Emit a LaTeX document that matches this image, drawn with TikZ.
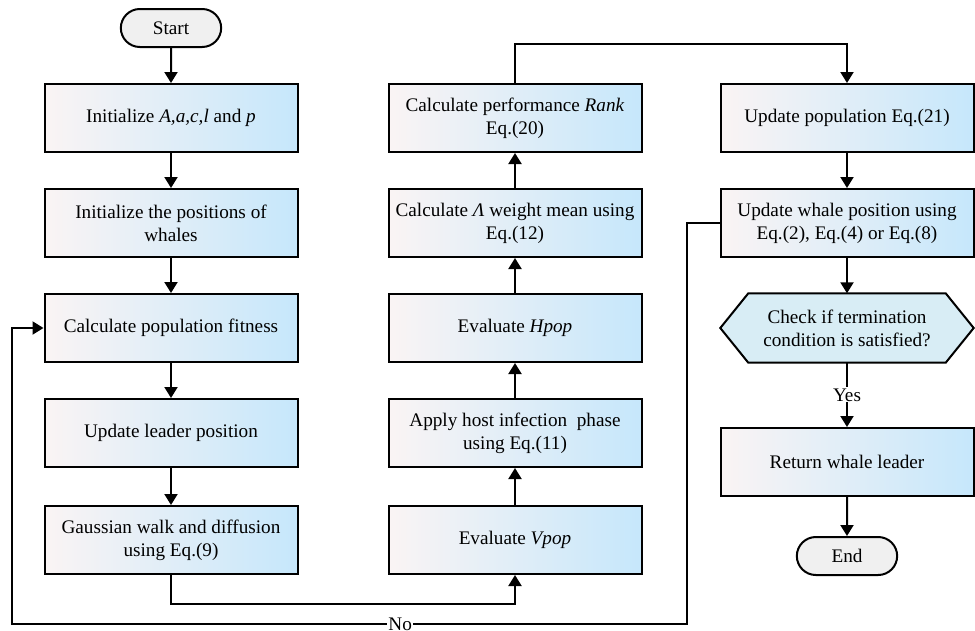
\documentclass[tikz,border=0pt]{standalone}
\usepackage{fontspec}
\setmainfont{Liberation Serif}
\usetikzlibrary{arrows.meta,shapes.misc,backgrounds}
\definecolor{boxl}{RGB}{250,244,244}
\definecolor{boxr}{RGB}{198,231,251}
\definecolor{hexfill}{RGB}{216,237,245}
\definecolor{termfill}{RGB}{240,240,240}
\tikzset{
  txt/.style={font=\fontsize{19.2}{23}\selectfont, align=center},
  proc/.style={txt, draw, line width=2pt, left color=boxl, right color=boxr,
    minimum width=253pt, minimum height=68pt},
  term/.style={txt, draw, line width=2pt, fill=termfill, rounded rectangle,
    minimum width=107pt, minimum height=38pt},
  arr/.style={line width=2pt, -{Triangle[length=11pt,width=13pt]}},
  lbl/.style={txt, fill=white, inner sep=1pt}
}
\begin{document}
\begin{tikzpicture}[x=1pt,y=-1pt]
\useasboundingbox (0,0) rectangle (975,630);
\node[term] (start) at (171,28) {Start};
\node[proc] (init) at (171,118) {Initialize \textit{A,a,c,l} and \textit{p}};
\node[proc] (pos) at (171,223) {Initialize the positions of\\whales};
\node[proc] (fit) at (171,328) {Calculate population fitness};
\node[proc] (lead) at (171,433) {Update leader position};
\node[proc] (gauss) at (171,540) {Gaussian walk and diffusion\\using Eq.(9)};
\node[proc] (vpop) at (515,540) {Evaluate \textit{Vpop}};
\node[proc] (host) at (515,433) {Apply host infection~ phase\\using Eq.(11)};
\node[proc] (hpop) at (515,328) {Evaluate \textit{Hpop}};
\node[proc] (lam) at (515,223) {Calculate \textit{Λ} weight mean using\\Eq.(12)};
\node[proc] (rank) at (515,118) {Calculate performance \textit{Rank}\\Eq.(20)};
\node[proc] (upop) at (847,118) {Update population Eq.(21)};
\node[proc] (whale) at (847,223) {Update whale position using\\Eq.(2), Eq.(4) or Eq.(8)};
\node[txt, minimum width=253pt, minimum height=69pt] (chk) at (847,328) {Check if termination\\condition is satisfied?};
\begin{scope}[on background layer]
\filldraw[line width=2pt, fill=hexfill] (chk.west) -- ([xshift=28pt]chk.north west) -- ([xshift=-28pt]chk.north east) -- (chk.east) -- ([xshift=-28pt]chk.south east) -- ([xshift=28pt]chk.south west) -- cycle;
\end{scope}
\node[proc] (ret) at (847,462) {Return whale leader};
\node[term] (end) at (847,556) {End};
\coordinate (top) at (515,44);
\coordinate (low) at (171,604);
\coordinate (loopr) at (687,624);
\coordinate (loopl) at (12,624);
\draw[arr] (start) -- (init);
\draw[arr] (init) -- (pos);
\draw[arr] (pos) -- (fit);
\draw[arr] (fit) -- (lead);
\draw[arr] (lead) -- (gauss);
\draw[arr] (gauss) -- (low) -| (vpop);
\draw[arr] (vpop) -- (host);
\draw[arr] (host) -- (hpop);
\draw[arr] (hpop) -- (lam);
\draw[arr] (lam) -- (rank);
\draw[arr] (rank) -- (top) -| (upop);
\draw[arr] (upop) -- (whale);
\draw[arr] (whale) -- (chk);
\draw[arr] (chk) -- node[lbl]{Yes} (ret);
\draw[arr] (ret) -- (end);
\draw[arr] (whale.west) -| (loopr) -- node[lbl, pos=0.425]{No} (loopl) |- (fit.west);
\end{tikzpicture}
\end{document}
